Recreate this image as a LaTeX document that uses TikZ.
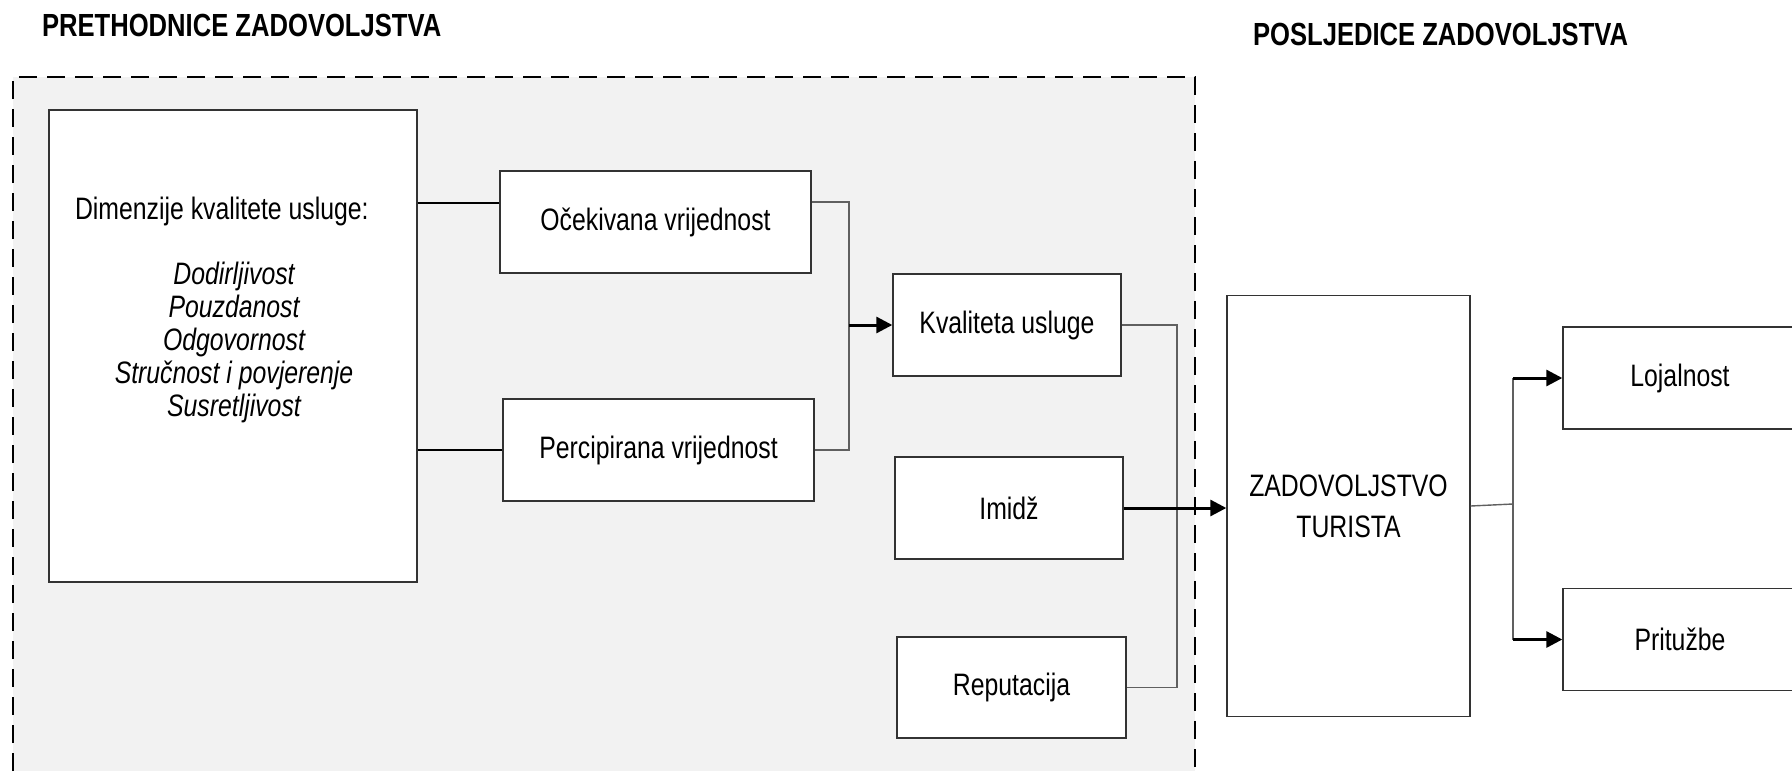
\documentclass[tikz,border=0pt]{standalone}
\usepackage{fontspec}
\setmainfont{Liberation Sans}[FakeStretch=0.8]
\usetikzlibrary{arrows.meta}
\definecolor{panelgray}{HTML}{F2F2F2}
\definecolor{linkgray}{HTML}{606060}
\tikzset{
  box/.style={draw=black!80,line width=0.7pt,fill=white,inner sep=0pt,align=center,
    font=\fontsize{15.5}{18}\selectfont},
  link/.style={draw=linkgray,line width=0.7pt},
  feed/.style={draw=black,line width=1pt},
  arrow/.style={draw=black,line width=1.5pt,-{Triangle[length=8pt,width=8pt]}},
  heading/.style={anchor=west,font=\fontsize{16}{19}\selectfont\bfseries}
}
\begin{document}
\begin{tikzpicture}[x=0.5pt,y=-0.5pt]
        \useasboundingbox (0,0) rectangle (1792,771);
        \fill[panelgray] (13,77) rectangle (1195,771);
        \draw[line width=1pt,dash pattern=on 9pt off 5pt] (13,771) -- (13,77) -- (1195,77) -- (1195,771);

        \node[heading] (prethodnice) at (35,25) {PRETHODNICE ZADOVOLJSTVA};
        \node[heading] (posljedice) at (1246,34) {POSLJEDICE ZADOVOLJSTVA};

        \node[box,minimum width=184pt,minimum height=236pt] (dim) at (233,346) {};
        \node[anchor=west,font=\fontsize{15.5}{18}\selectfont] (dimnaslov) at (68,211) {Dimenzije kvalitete usluge:};
        \node[align=center,font=\fontsize{15.5}{16.5}\selectfont\itshape] (dimlista) at (234,342)
            {Dodirljivost\\Pouzdanost\\Odgovornost\\Stru\v{c}nost i povjerenje\\Susretljivost};

        \node[box,minimum width=155.5pt,minimum height=51pt] (ocek) at (655.5,222) {O\v{c}ekivana vrijednost};
        \node[box,minimum width=155.5pt,minimum height=51pt] (perc) at (658.5,450) {Percipirana vrijednost};

        \node[box,minimum width=114pt,minimum height=51pt] (kval) at (1007,325) {Kvaliteta usluge};
        \node[box,minimum width=114pt,minimum height=51pt] (imidz) at (1009,508) {Imid\v{z}};
        \node[box,minimum width=114.5pt,minimum height=50.5pt] (rep) at (1011.5,687.5) {Reputacija};

        \node[box,minimum width=121.5pt,minimum height=210.5pt,font=\fontsize{15.5}{20.5}\selectfont] (zad) at (1348.5,506) {ZADOVOLJSTVO\\TURISTA};

        \node[box,minimum width=117pt,minimum height=51pt] (loj) at (1680,378) {Lojalnost};
        \node[box,minimum width=117pt,minimum height=51pt] (prit) at (1680,639.5) {Pritu\v{z}be};

        \coordinate (o1) at ([yshift=9.5pt]ocek.west);
        \coordinate (o2) at ([yshift=10pt]ocek.east);
        \coordinate (j1) at (849,325);
        \coordinate (j2) at (1177,504);
        \coordinate (j3) at (1513,504);

        \draw[feed] (dim.east |- o1) -- (o1);
        \draw[feed] (dim.east |- perc.west) -- (perc.west);

        \draw[link] (o2) -| (j1) |- (perc.east);
        \draw[arrow] (j1) -- (kval.west);

        \draw[link] (kval.east) -| (j2) |- (rep.east);
        \draw[arrow] (imidz.east) -- (imidz.east -| zad.west);

        \draw[link] (zad.east) -- (j3);
        \draw[link] (j3 |- loj.west) -- (j3 |- prit.west);
        \draw[arrow] (j3 |- loj.west) -- (loj.west);
        \draw[arrow] (j3 |- prit.west) -- (prit.west);
\end{tikzpicture}
\end{document}
